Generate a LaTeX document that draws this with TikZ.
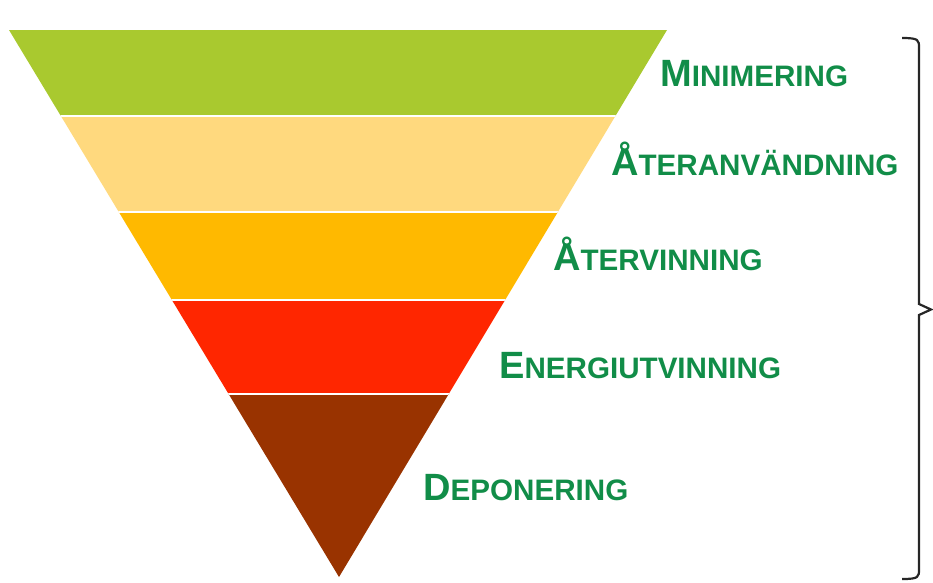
\documentclass[tikz,border=0pt]{standalone}
\usepackage{fontspec}
\setmainfont{Liberation Sans}
\definecolor{bandA}{RGB}{169,201,47}
\definecolor{bandB}{RGB}{255,217,126}
\definecolor{bandC}{RGB}{255,185,0}
\definecolor{bandD}{RGB}{255,38,0}
\definecolor{bandE}{RGB}{153,51,0}
\definecolor{lbl}{RGB}{17,141,72}
\newcommand{\smc}[2]{{\fontsize{38}{40}\selectfont #1}{\fontsize{29.6}{32}\selectfont #2}}
\tikzset{lab/.style={anchor=base west, inner sep=0pt, text=lbl, font=\bfseries}}
\begin{document}
\begin{tikzpicture}[x=1pt,y=-1pt]
\useasboundingbox (0,0) rectangle (933,582);
\coordinate (tl) at (9,30);
\coordinate (tr) at (667,30);
\coordinate (ap) at (339,577);
\begin{scope}
\clip (tl) -- (tr) -- (ap) -- cycle;
\fill[bandA] (0,0) rectangle (700,116);
\fill[bandB] (0,116) rectangle (700,212);
\fill[bandC] (0,212) rectangle (700,300);
\fill[bandD] (0,300) rectangle (700,394);
\fill[bandE] (0,394) rectangle (700,582);
\draw[white,line width=2.2pt] (0,116) -- (700,116) (0,212) -- (700,212) (0,300) -- (700,300) (0,394) -- (700,394);
\end{scope}
\node[lab] (m) at (660,86) {\smc{M}{INIMERING}};
\node[lab] (a) at (611,175) {\smc{Å}{TERANVÄNDNING}};
\node[lab] (v) at (553,270) {\smc{Å}{TERVINNING}};
\node[lab] (e) at (499,378) {\smc{E}{NERGIUTVINNING}};
\node[lab] (d) at (423,500) {\smc{D}{EPONERING}};
\coordinate (b1) at (902,38);
\coordinate (b2) at (902,579);
\coordinate (bt) at (931,309.5);
\draw[line width=2.2pt, color=black!85, line join=miter]
  (b1) .. controls (919,38) and (919,40) .. (919,48) -- (919,304) -- (bt) -- (919,315) -- (919,569) .. controls (919,577) and (919,579) .. (b2);
\end{tikzpicture}
\end{document}
